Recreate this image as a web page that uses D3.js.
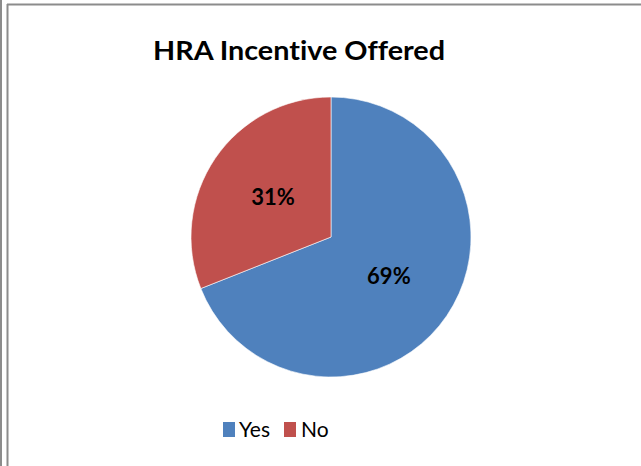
<!DOCTYPE html>
<html>
<head>
<meta charset="utf-8">
<script src="https://cdn.jsdelivr.net/npm/d3@7"></script>
<style>
  html, body { margin: 0; padding: 0; background: #fff; }
  svg { display: block; }
  text { font-variant-ligatures: none; }
</style>
</head>
<body>
<svg id="chart" width="641" height="466"></svg>
<script>
// Survey share: was an HRA incentive offered?
const categories = ["Yes", "No"];
const values = [69, 31];
const colors = ["#4F81BD", "#C0504D"];
const title = "HRA Incentive Offered";

const width = 641, height = 466;
const svg = d3.select("#chart");
const font = "Lato, 'Open Sans', sans-serif";

// Frame lines
svg.append("line").attr("x1", 1).attr("x2", 1).attr("y1", 0).attr("y2", height)
  .attr("stroke", "#8c8c8c").attr("stroke-width", 2);
svg.append("line").attr("x1", 7.5).attr("x2", 7.5).attr("y1", 4).attr("y2", height)
  .attr("stroke", "#8c8c8c").attr("stroke-width", 2);
svg.append("line").attr("x1", 7).attr("x2", width).attr("y1", 4.5).attr("y2", 4.5)
  .attr("stroke", "#8c8c8c").attr("stroke-width", 2);

// Title
svg.append("text")
  .attr("x", 299).attr("y", 60)
  .attr("text-anchor", "middle")
  .attr("font-family", font)
  .attr("font-weight", "bold")
  .attr("font-size", 26)
  .attr("textLength", 292)
  .attr("lengthAdjust", "spacingAndGlyphs")
  .attr("fill", "#000")
  .text(title);

// Pie
const cx = 331, cy = 237, r = 140;
const data = categories.map((c, i) => ({ name: c, value: values[i], color: colors[i] }));
const pie = d3.pie().sort(null).value(d => d.value);
const arc = d3.arc().innerRadius(0).outerRadius(r);
const g = svg.append("g").attr("transform", `translate(${cx},${cy})`);
const arcs = pie(data);

g.selectAll("path.slice").data(arcs).join("path")
  .attr("class", "slice")
  .attr("d", arc)
  .attr("fill", d => d.data.color)
  .attr("stroke", "#fff")
  .attr("stroke-width", 0.6);

g.selectAll("text.lbl").data(arcs).join("text")
  .attr("class", "lbl")
  .attr("transform", d => `translate(${arc.centroid(d)})`)
  .attr("text-anchor", "middle")
  .attr("dy", "0.35em")
  .attr("font-family", font)
  .attr("font-weight", "bold")
  .attr("font-size", 22)
  .attr("fill", "#000")
  .text(d => d.data.value + "%");

// Legend
const legend = svg.append("g").attr("transform", "translate(223,422)");
const items = [
  { x: 0, tx: 16 },
  { x: 61, tx: 78 }
];
data.forEach((d, i) => {
  legend.append("rect")
    .attr("x", items[i].x).attr("y", 0)
    .attr("width", 12).attr("height", 15)
    .attr("fill", d.color);
  legend.append("text")
    .attr("x", items[i].tx).attr("y", 15)
    .attr("font-family", font)
    .attr("font-size", 21)
    .attr("fill", "#000")
    .text(d.name);
});
</script>
</body>
</html>
